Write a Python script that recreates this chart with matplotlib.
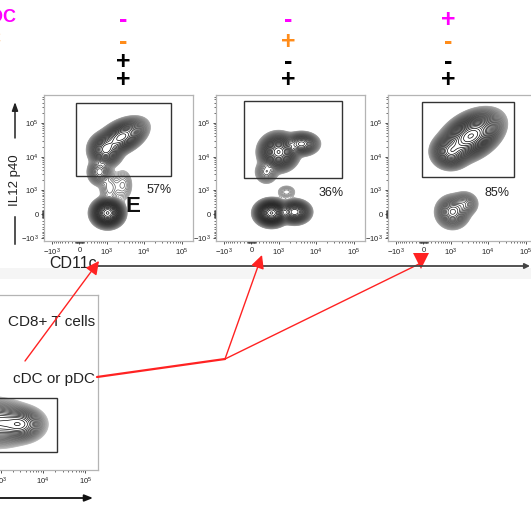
import numpy as np
import matplotlib
matplotlib.use("Agg")
import matplotlib.pyplot as plt
from matplotlib.patches import Rectangle

plt.rcParams['font.family'] = ['Liberation Sans', 'DejaVu Sans']
plt.rcParams['mathtext.default'] = 'regular'
plt.rcParams['mathtext.fontset'] = 'custom'
plt.rcParams['mathtext.rm'] = 'Liberation Sans:bold'

W, H = 531, 507
LW = 400.0  # asinh linear width used by the cytometry display

# ---------------- data ----------------
row_labels = ['pDC', 'cDC']
signs_pdc = ['-', '-', '+']
signs_cdc = ['-', '+', '-']
signs_r3 = ['+', '-', '-']
signs_r4 = ['+', '+', '+']
gate_pct = ['57%', '36%', '85%']

tick_vals = [-1000, 0, 1000, 10000, 100000]
tick_labels = [r'$-10^3$', '0', r'$10^3$', r'$10^4$', r'$10^5$']

# populations: CD11c value, IL12 p40 value, spread along/across (asinh units),
# tilt (deg), relative weight
p1_x = [1070, 2570, 940, 616, 1215, 2800]
p1_y = [28, 38400, 15800, 3520, 1136, 1400]
p1_sa = [0.35, 0.62, 0.38, 0.30, 0.30, 0.30]
p1_sb = [0.35, 0.37, 0.42, 0.38, 0.55, 0.55]
p1_ang = [0, 34, 0, 0, 0, 0]
p1_w = [1.0, 0.45, 0.35, 0.08, 0.02, 0.015]

p2_x = [616, 2740, 1660, 1000, 4200, 415]
p2_y = [28, 56, 850, 13760, 24000, 3520]
p2_sa = [0.36, 0.36, 0.30, 0.42, 0.40, 0.30]
p2_sb = [0.32, 0.30, 0.25, 0.45, 0.30, 0.35]
p2_ang = [0, 0, 0, 0, 0, 0]
p2_w = [1.0, 0.40, 0.012, 0.70, 0.22, 0.04]

p3_x = [3520, 1000, 1140, 2400]
p3_y = [40900, 14000, 56, 300]
p3_sa = [0.75, 0.42, 0.40, 0.35]
p3_sb = [0.48, 0.42, 0.44, 0.35]
p3_ang = [38, 0, 0, 0]
p3_w = [0.80, 0.30, 0.12, 0.04]

# lower-left source plot (CD11c vs a linear parameter)
p0_x = [3000, 1100, 250]
p0_y = [68600, 70000, 72000]
p0_sa = [0.45, 0.55, 0.55]
p0_sb = [0.30, 0.38, 0.42]
p0_ang = [0, 0, 0]
p0_w = [0.5, 0.4, 0.4]

# gates: x0, x1, y0, y1 (data units)
gates_top = [(-73, 51400, 2650, 392000),
             (-200, 48400, 2320, 446000),
             (-24, 48400, 2500, 420000)]
gate_low = (-1700, 22000, 27000, 108000)

XLIM = (-1700, 198000)
YLIM = (-1230, 672000)
YLIM_LOW = (0, 262144)


def px_rect(x0, y0, x1, y1):
    return [x0 / W, 1 - y1 / H, (x1 - x0) / W, (y1 - y0) / H]


def asf(v):
    return np.arcsinh(np.asarray(v, float) / LW)


def contour_pop(ax, xs, ys, sas, sbs, angs, ws, ylim, ylinear=False,
                grey0=0.62, gamma=1.6, n=34):
    u = np.linspace(asf(XLIM[0]), asf(XLIM[1]), 420)
    if ylinear:
        yf = lambda y: np.asarray(y, float) / 30000.0
        yi = lambda v: v * 30000.0
    else:
        yf = asf
        yi = lambda v: LW * np.sinh(v)
    v = np.linspace(yf(ylim[0]), yf(ylim[1]), 420)
    U, V = np.meshgrid(u, v)
    Z = np.zeros_like(U)
    for x, y, sa, sb, a, w in zip(xs, ys, sas, sbs, angs, ws):
        du, dv = U - asf(x), V - yf(y)
        c, s = np.cos(np.radians(a)), np.sin(np.radians(a))
        p = du * c + dv * s
        q = -du * s + dv * c
        Z += w * np.exp(-0.5 * ((p / sa) ** 2 + (q / sb) ** 2))
    Z /= Z.max()
    levels = np.geomspace(0.003, 0.97, n)
    t = np.linspace(0, 1, n)
    cols = [str(grey0 * (1 - tt) ** gamma) for tt in t]
    ax.contour(LW * np.sinh(U), yi(V), Z, levels=levels, colors=cols, linewidths=0.5)


def minor_list(lo, hi):
    m = []
    for k in list(range(10, 100, 10)) + list(range(100, 1000, 100)):
        m += [k, -k]
    for dec in [1000, 10000, 100000]:
        m += [dec * k for k in range(2, 10)]
        m += [-dec * k for k in range(2, 10)]
    return [v for v in m if lo < v < hi]


def style_axes(ax, ylinear=False):
    ax.set_xscale('asinh', linear_width=LW)
    ax.set_xlim(*XLIM)
    ax.set_xticks(tick_vals)
    ax.set_xticklabels(tick_labels)
    ax.set_xticks(minor_list(*XLIM), minor=True)
    if not ylinear:
        ax.set_yscale('asinh', linear_width=LW)
        ax.set_ylim(*YLIM)
        ax.set_yticks(tick_vals)
        ax.set_yticklabels(tick_labels)
        ax.set_yticks(minor_list(*YLIM), minor=True)
    else:
        ax.set_ylim(*YLIM_LOW)
        ax.set_yticks([])
    for s in ax.spines.values():
        s.set_color('#b4b4b4')
        s.set_linewidth(0.9)
    ax.tick_params(which='major', length=2.5, width=0.6, color='#333333',
                   labelsize=5.5, pad=1.5, labelcolor='#222222')
    ax.tick_params(which='minor', length=1.3, width=0.5, color='#333333')


fig = plt.figure(figsize=(W / 100, H / 100), dpi=100)
fig.patch.set_facecolor('white')

# light band behind the CD11c axis line
band = fig.add_axes(px_rect(0, 268, W, 279))
band.set_facecolor('#f5f5f5')
band.set_xticks([]); band.set_yticks([])
for s in band.spines.values():
    s.set_visible(False)

panel_rects = [(44, 95, 193, 241), (216, 95, 365, 241), (388, 95, 537, 241)]
pops = [(p1_x, p1_y, p1_sa, p1_sb, p1_ang, p1_w),
        (p2_x, p2_y, p2_sa, p2_sb, p2_ang, p2_w),
        (p3_x, p3_y, p3_sa, p3_sb, p3_ang, p3_w)]
pct_pos = [(0.77, 0.35), (0.77, 0.33), (0.73, 0.33)]

for i in range(3):
    ax = fig.add_axes(px_rect(*panel_rects[i]))
    style_axes(ax)
    contour_pop(ax, *pops[i], YLIM)
    g = gates_top[i]
    ax.add_patch(Rectangle((g[0], g[2]), g[1] - g[0], g[3] - g[2], fill=False,
                           edgecolor='#333333', linewidth=1.0, zorder=5))
    ax.text(*pct_pos[i], gate_pct[i], transform=ax.transAxes, fontsize=9,
            ha='center', va='center', color='#222222')
    if i == 0:
        ax.text(0.60, 0.235, 'E', transform=ax.transAxes, fontsize=16,
                fontweight='bold', ha='center', va='center', color='#111111')

# lower-left source plot
ax0 = fig.add_axes(px_rect(-70, 295, 98, 470))
style_axes(ax0, ylinear=True)
contour_pop(ax0, p0_x, p0_y, p0_sa, p0_sb, p0_ang, p0_w, YLIM_LOW, ylinear=True,
            grey0=0.72, gamma=1.2, n=26)
g = gate_low
ax0.add_patch(Rectangle((g[0], g[2]), g[1] - g[0], g[3] - g[2], fill=False,
                        edgecolor='#333333', linewidth=1.0, zorder=5))
ax0.text(0.982, 0.846, 'CD8+ T cells', transform=ax0.transAxes, fontsize=11,
         ha='right', va='center', color='#222222')
ax0.text(0.982, 0.52, 'cDC or pDC', transform=ax0.transAxes, fontsize=11,
         ha='right', va='center', color='#222222')

# overlay in pixel coordinates for annotations
ov = fig.add_axes([0, 0, 1, 1])
ov.set_xlim(0, W); ov.set_ylim(H, 0)
ov.axis('off')
ov.patch.set_alpha(0)
ov.set_zorder(10)

MAG, ORA = '#ff00ff', '#ff8c1a'
cols_x = [123, 288, 448]
rows_y = [18, 40, 60, 78]
row_sets = [(signs_pdc, MAG), (signs_cdc, ORA), (signs_r3, 'black'), (signs_r4, 'black')]
for (signs, c), y in zip(row_sets, rows_y):
    for s, x in zip(signs, cols_x):
        ov.text(x, y, r'$\text{' + s + '}$', color=c, fontsize=18,
                ha='center', va='center')
ov.text(17, 18, row_labels[0], color=MAG, fontsize=13, fontweight='bold', ha='right', va='center')
ov.text(1.5, 40, row_labels[1], color=ORA, fontsize=13, fontweight='bold', ha='right', va='center')

# axis titles
ov.text(15, 180, 'IL12 p40', rotation=90, fontsize=9.5, ha='center', va='center', color='#222222')
ov.plot([15, 15], [217, 244], color='#222222', lw=1.1)
ov.annotate('', xy=(15, 102), xytext=(15, 138),
            arrowprops=dict(arrowstyle='-|>,head_length=0.5,head_width=0.18',
                            color='#222222', lw=1.1, shrinkA=0, shrinkB=0))
ov.text(73, 264, 'CD11c', fontsize=11.5, ha='center', va='center', color='#222222')
ov.annotate('', xy=(530, 266), xytext=(97, 266),
            arrowprops=dict(arrowstyle='-|>,head_length=0.3,head_width=0.15',
                            color='#444444', lw=1.3, shrinkA=0, shrinkB=0))
ov.annotate('', xy=(93, 498), xytext=(0, 498),
            arrowprops=dict(arrowstyle='-|>,head_length=0.5,head_width=0.2',
                            color='#111111', lw=1.3, shrinkA=0, shrinkB=0))

# red linking arrows
RED = '#ff2222'
ov.annotate('', xy=(99, 261), xytext=(25, 361),
            arrowprops=dict(arrowstyle='-|>,head_length=0.8,head_width=0.4',
                            color=RED, lw=1.0, shrinkA=0, shrinkB=0))
ov.plot([97, 225], [377, 359], color=RED, lw=1.6, solid_capstyle='round')
ov.annotate('', xy=(262, 255), xytext=(225, 359),
            arrowprops=dict(arrowstyle='-|>,head_length=0.8,head_width=0.4',
                            color=RED, lw=1.0, shrinkA=0, shrinkB=0))
ov.plot([225, 419], [359, 264], color=RED, lw=1.0)
ov.plot([421], [261], marker='v', markersize=12, color=RED, markeredgewidth=0)

fig.savefig('out.png', dpi=100, facecolor='white')
